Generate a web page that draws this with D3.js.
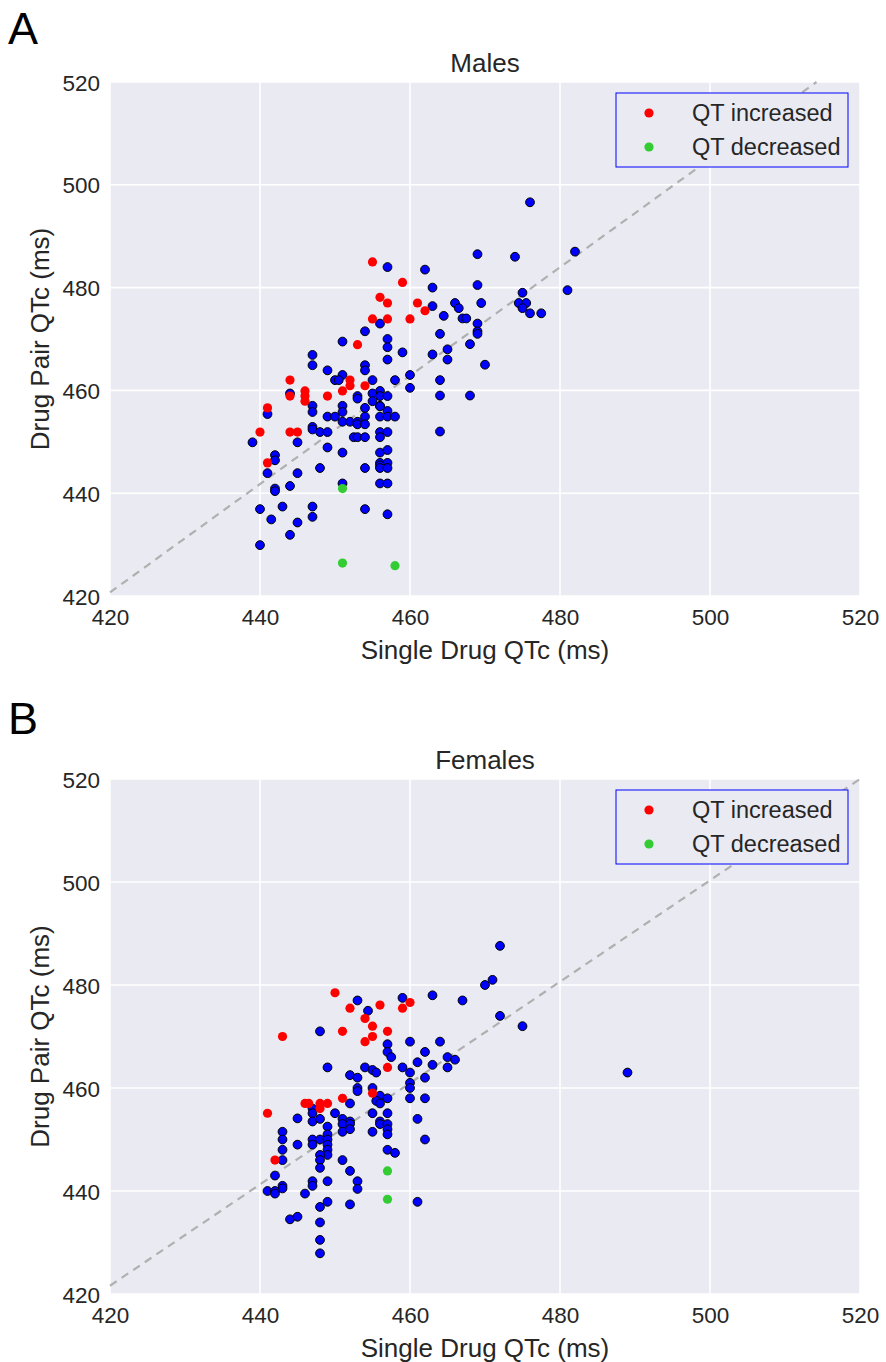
<!DOCTYPE html>
<html>
<head>
<meta charset="utf-8">
<script src="https://cdn.jsdelivr.net/npm/d3@7"></script>
<style>
  html, body { margin: 0; padding: 0; background: #ffffff; }
  svg { display: block; }
  text { font-family: "Liberation Sans", Arial, sans-serif; fill: #262626; }
</style>
</head>
<body>
<svg id="chart" width="886" height="1362"></svg>
<script>
// ---------------- data ----------------
const xTicks = [420, 440, 460, 480, 500, 520];
const yTicks = [420, 440, 460, 480, 500, 520];
const legendLabels = ["QT increased", "QT decreased"];
const panelLetters = ["A", "B"];
const panelTitles = ["Males", "Females"];
const xLabel = "Single Drug QTc (ms)";
const yLabel = "Drug Pair QTc (ms)";

// dashed reference lines [x, y] endpoints
const malesLine = [[420, 420.7], [514.2, 520]];
const femalesLine = [[420, 421.6], [520, 520]];

// Males: other pairs (blue)
const malesOther = [
  [457,484],[462,483.5],[456,473],[454,471.5],[451,469.5],[457,470],[457,468.4],[459,467.4],[463,467],[457,466],
  [447,466.9],[447,464.9],[449,463.9],[454,464.9],[454,463.9],[451,463],[450,462],[450.5,462],[455,462],[458,462],
  [460,463],[460,460.5],[444,459.4],[456,459.9],[455,459.4],[453,458.9],[453,458.4],[456,458.9],[457,458.9],[455,457.9],
  [456,457],[447,457],[451,457],[454,456.6],[441,455.4],[447,455.8],[451,455.8],[456,456.9],[457,456],[449,454.9],
  [450,454.9],[454,454.9],[456,454.9],[457,454.9],[458,454.9],[451,453.9],[452,453.9],[453,453.9],[453,453.4],[454,453.4],
  [447,452.9],[447,452.4],[448,451.9],[449,451.9],[456,451.9],[456,450.9],[457,451.9],[452.5,450.9],[453,450.9],[454,450.9],
  [439,449.9],[445,449.9],[449,448.9],[451,447.9],[456,447.9],[457,448.4],[442,447.4],[442,446.4],[456,445.9],[457,445.9],
  [456,445.4],[456,444.9],[457,444.9],[454,444.9],[448,444.9],[441,443.9],[445,443.9],[451,441.9],[456,441.9],[457,441.9],
  [444,441.4],[442,440.9],[442,440.4],[440,436.9],[443,437.4],[447,437.4],[447,435.4],[454,436.9],[457,435.9],[441.5,434.9],
  [445,434.3],[444,431.9],[440,429.9],[476,496.6],[482,487],[469,486.5],[474,486],[463,480],[469,480.5],[481,479.5],
  [475,479],[463,476.4],[466,477],[466.5,476],[469.5,477],[474.5,477],[475.5,477],[475,476],[476,475],[477.5,475],
  [464.5,474.5],[467,474],[467.5,474],[469,473],[469,471.5],[469,471],[464,471],[468,469],[465,468],[465,466],
  [470,465],[464,462],[464,459],[468,459],[464,452]
];
// Males: QT increased (red)
const malesIncreased = [
  [455,485],[459,481],[456,478.1],[457,477],[461,477],[462,475.5],[455,473.9],[457,473.9],[460,473.9],[453,468.9],
  [452,462],[452,460.9],[444,462],[454,460.9],[451,459.9],[446,459.9],[446,458.9],[446,457.9],[444,458.9],[449,458.9],
  [441,456.6],[440,451.9],[444,451.9],[445,451.9],[441,445.9]
];
// Males: QT decreased (green)
const malesDecreased = [[451,440.9],[451,426.4],[458,425.9]];

// Females: other pairs (blue)
const femalesOther = [
  [453,477],[454.4,475],[448,471],[457,468.5],[460,469],[457,467],[457.5,466],[462,467],[461,465],[449,464],
  [454,464],[455,463.5],[455.5,463],[459,464],[460,463],[460,461],[460,460],[462,462],[452,462.5],[453,462],
  [453,460],[453,459.4],[455,460],[456,458.5],[457,458],[460,458],[462,458],[455.5,457.5],[456,457],[452,457],
  [447,456],[445,454.1],[447,455.1],[450,455.1],[455,455.1],[457,455.1],[447,453.5],[448,454],[451,454],[451,453],
  [451,451.5],[452,453.5],[452,453],[452,452],[455,451.5],[456,453.5],[456,453],[457,453],[457,452],[457,451],
  [457,448],[458,447.4],[461,454],[462,450],[443,451.5],[443,450],[443,448],[443,446],[445,449],[447,450],
  [447,449],[448,450],[449,452.5],[449,451],[449,450],[449,449],[449,448],[449,447],[448,447],[448,446],
  [448,444.5],[451,446],[452,443.9],[442,443],[447,441.9],[447,441],[449,441.9],[453,441.9],[453,440.4],[443,441],
  [443,440.5],[441,440],[442,440],[442,439.5],[446,439.5],[461,437.9],[449,437.9],[448,436.9],[452,437.4],[444,434.5],
  [445,435],[448,433.9],[448,430.5],[448,427.9],[472,487.6],[470,480],[471,481],[463,478],[467,477],[459,477.5],
  [472,474],[475,472],[464,469],[463,464.5],[465,466],[466,465.5],[465,464],[489,463]
];
// Females: QT increased (red)
const femalesIncreased = [
  [450,478.5],[460,476.6],[459,475.5],[452,475.5],[456,476.1],[454,473.5],[455,472],[455,470],[457,471],[451,471],
  [454,469],[443,470],[457,464],[455,459],[451,458],[446,457],[446.5,457],[448,457],[449,457],[448,456],
  [441,455.1],[442,446]
];
// Females: QT decreased (green)
const femalesDecreased = [[457,443.9],[457,438.4]];

// ---------------- drawing ----------------
const svg = d3.select("#chart");
const COLORS = { other: "#0000ff", inc: "#ff0000", dec: "#33cc33", bg: "#eaeaf2" };

function drawPanel(cfg) {
  const { top, bottom, left, right, letterY, letter, title, other, inc, dec, line } = cfg;
  const x = d3.scaleLinear().domain([420, 520]).range([left, right]);
  const y = d3.scaleLinear().domain([420, 520]).range([bottom, top]);
  const g = svg.append("g");

  // panel letter
  g.append("text").attr("x", 8).attr("y", letterY)
    .style("font-family", "'Liberation Sans', Arial, sans-serif")
    .style("font-size", "45px").style("fill", "#000").text(letter);

  // background
  g.append("rect").attr("x", left).attr("y", top)
    .attr("width", right - left).attr("height", bottom - top).attr("fill", COLORS.bg);

  // grid
  g.selectAll(".gx").data(xTicks).join("line")
    .attr("x1", d => x(d)).attr("x2", d => x(d)).attr("y1", top).attr("y2", bottom)
    .attr("stroke", "#fff").attr("stroke-width", 1.6);
  g.selectAll(".gy").data(yTicks).join("line")
    .attr("y1", d => y(d)).attr("y2", d => y(d)).attr("x1", left).attr("x2", right)
    .attr("stroke", "#fff").attr("stroke-width", 1.6);

  // axes (labels only)
  const xAxis = d3.axisBottom(x).tickValues(xTicks).tickSize(0).tickPadding(0);
  const ax = g.append("g").attr("transform", `translate(0,${bottom})`).call(xAxis);
  ax.select(".domain").remove();
  ax.selectAll("text").attr("dy", "0").attr("y", 29).style("font-size", "22.5px").style("fill", "#262626")
    .style("font-family", "'Liberation Sans', Arial, sans-serif");

  const yAxis = d3.axisLeft(y).tickValues(yTicks).tickSize(0).tickPadding(0);
  const ay = g.append("g").attr("transform", `translate(${left},0)`).call(yAxis);
  ay.select(".domain").remove();
  ay.selectAll("text").attr("x", -10).attr("dy", "0.36em").style("font-size", "22.5px").style("fill", "#262626")
    .style("font-family", "'Liberation Sans', Arial, sans-serif");

  // dashed line
  g.append("line")
    .attr("x1", x(line[0][0])).attr("y1", y(line[0][1]))
    .attr("x2", x(line[1][0])).attr("y2", y(line[1][1]))
    .attr("stroke", "#b0b0b0").attr("stroke-width", 2.2).attr("stroke-dasharray", "8,6");

  // points
  g.append("g").selectAll("circle").data(other).join("circle")
    .attr("cx", d => x(d[0])).attr("cy", d => y(d[1])).attr("r", 4.4)
    .attr("fill", COLORS.other).attr("stroke", "#000").attr("stroke-width", 1);
  g.append("g").selectAll("circle").data(inc).join("circle")
    .attr("cx", d => x(d[0])).attr("cy", d => y(d[1])).attr("r", 4.6)
    .attr("fill", COLORS.inc);
  g.append("g").selectAll("circle").data(dec).join("circle")
    .attr("cx", d => x(d[0])).attr("cy", d => y(d[1])).attr("r", 4.6)
    .attr("fill", COLORS.dec);

  // title
  g.append("text").attr("x", (left + right) / 2).attr("y", top - 10)
    .attr("text-anchor", "middle").style("font-size", "26px").text(title);

  // axis labels
  g.append("text").attr("x", (left + right) / 2).attr("y", bottom + 63)
    .attr("text-anchor", "middle").style("font-size", "26px").text(xLabel);
  g.append("text")
    .attr("transform", `translate(49,${(top + bottom) / 2}) rotate(-90)`)
    .attr("text-anchor", "middle").style("font-size", "26px").text(yLabel);

  // legend
  const lx = 616, ly = top + 11, lw = 232, lh = 74;
  g.append("rect").attr("x", lx).attr("y", ly).attr("width", lw).attr("height", lh)
    .attr("fill", COLORS.bg).attr("stroke", "#0000ff").attr("stroke-width", 1);
  const legColors = [COLORS.inc, COLORS.dec];
  legendLabels.forEach((lab, i) => {
    const cy = ly + 20 + i * 34;
    g.append("circle").attr("cx", lx + 33).attr("cy", cy).attr("r", 4.6).attr("fill", legColors[i]);
    g.append("text").attr("x", lx + 76).attr("y", cy + 8).style("font-size", "23.5px").text(lab);
  });
}

drawPanel({ top: 82, bottom: 596, left: 110, right: 860, letterY: 44, letter: panelLetters[0],
  title: panelTitles[0], other: malesOther, inc: malesIncreased, dec: malesDecreased, line: malesLine });
drawPanel({ top: 779, bottom: 1294, left: 110, right: 860, letterY: 734, letter: panelLetters[1],
  title: panelTitles[1], other: femalesOther, inc: femalesIncreased, dec: femalesDecreased, line: femalesLine });
</script>
</body>
</html>
